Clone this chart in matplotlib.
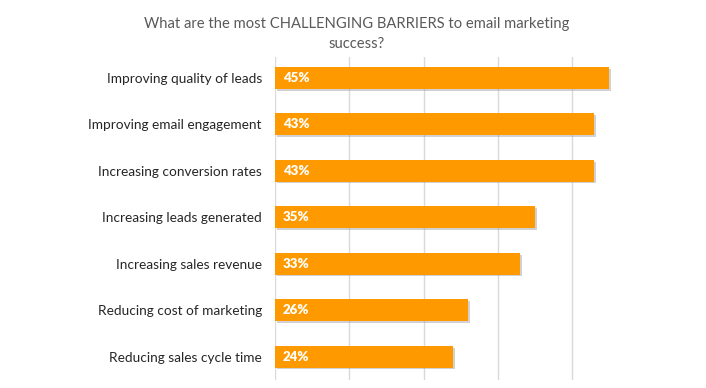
import matplotlib.pyplot as plt
import matplotlib.patheffects as pe

categories = [
    "Improving quality of leads",
    "Improving email engagement",
    "Increasing conversion rates",
    "Increasing leads generated",
    "Increasing sales revenue",
    "Reducing cost of marketing",
    "Reducing sales cycle time",
]
values = [45, 43, 43, 35, 33, 26, 24]
value_labels = ["45%", "43%", "43%", "35%", "33%", "26%", "24%"]
title = "What are the most CHALLENGING BARRIERS to email marketing\nsuccess?"

plt.rcParams['font.family'] = ['Lato', 'DejaVu Sans']

fig = plt.figure(figsize=(7.06, 3.88), dpi=100)
ax = fig.add_axes([0.3895, 0.0206, 0.526, 0.8324])

ypos = list(range(len(categories)))
bars = ax.barh(ypos, values, height=0.47, color='#FF9900', zorder=3)
for b in bars:
    b.set_path_effects([pe.SimplePatchShadow(offset=(1.2, -1.2), shadow_rgbFace='#999999', alpha=0.45),
                        pe.Normal()])

for y, lab in zip(ypos, value_labels):
    ax.text(1.05, y, lab, color='white', fontweight='heavy', fontsize=9.5,
            va='center', ha='left', zorder=4)

ax.set_xlim(0, 50)
ax.set_ylim(len(categories) - 0.5, -0.45)
ax.set_xticks([0, 10, 20, 30, 40])
ax.set_xticklabels([])
ax.tick_params(axis='x', length=0)
ax.tick_params(axis='y', length=0, pad=9.5, labelsize=9.8, labelcolor='#262626')
ax.set_yticks(ypos)
ax.set_yticklabels(categories)
ax.grid(axis='x', color='#D9D9D9', linewidth=1, zorder=0)
for s in ax.spines.values():
    s.set_visible(False)

fig.text(0.505, 0.955, title, ha='center', va='top', fontsize=10.6, color='#595959',
         linespacing=1.5)

fig.savefig('out.png', dpi=100)
